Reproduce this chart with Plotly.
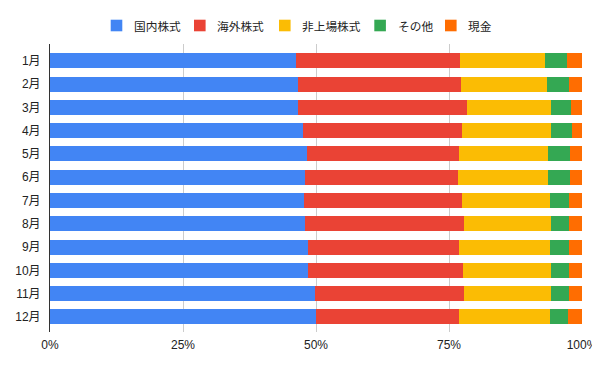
import plotly.graph_objects as go

months = ["1月", "2月", "3月", "4月", "5月", "6月", "7月", "8月", "9月", "10月", "11月", "12月"]
series_names = ["国内株式", "海外株式", "非上場株式", "その他", "現金"]
domestic = [46.2, 46.6, 46.6, 47.6, 48.3, 47.9, 47.7, 47.9, 48.5, 48.5, 49.8, 50.0]
foreign = [30.9, 30.7, 31.8, 29.9, 28.6, 28.8, 29.8, 30.0, 28.4, 29.2, 28.1, 26.9]
unlisted = [16.0, 16.2, 15.7, 16.6, 16.8, 17.0, 16.4, 16.2, 17.0, 16.4, 16.2, 17.0]
other = [4.0, 4.1, 3.9, 4.1, 4.1, 4.1, 3.7, 3.5, 3.7, 3.5, 3.5, 3.4]
cash = [2.9, 2.4, 2.0, 1.8, 2.2, 2.2, 2.4, 2.4, 2.4, 2.4, 2.4, 2.7]
tick_vals = [0, 0.25, 0.5, 0.75, 1.0]
tick_text = ["0%", "25%", "50%", "75%", "100%"]
colors = ["#4285F4", "#EA4335", "#FBBC04", "#34A853", "#FF6D01"]

data = [domestic, foreign, unlisted, other, cash]
totals = [sum(v) for v in zip(*data)]

font = "'Liberation Sans', Arial, 'Noto Sans CJK JP', sans-serif"
cjk_font = "'Noto Sans CJK JP', 'Liberation Sans', sans-serif"
fig = go.Figure()
for name, vals, c in zip(series_names, data, colors):
    fig.add_trace(go.Bar(
        y=months, x=[v / t for v, t in zip(vals, totals)], name=name,
        orientation="h", marker=dict(color=c, line=dict(width=0)), width=0.645,
        showlegend=False,
    ))

# page body has an 8px default margin, so the figure is sized/offset to compensate
W, H = 592, 363
ML, MR, MT, MB = 42, 18, 36, 39
PW, PH = W - ML - MR, H - MT - MB
OFF = 8

def px_to_paper_x(px):
    return (px - OFF - ML) / PW

def px_to_paper_y(py):
    return 1 - (py - OFF - MT) / PH

# custom legend (layout positions in window pixels)
legend_sq_left = [110.7, 194.0, 279.0, 374.3, 445.0]
legend_sq_size = 11.6
legend_cy = 25.5
legend_text_gap = 9.8
shapes, annotations = [], []
for name, c, sx in zip(series_names, colors, legend_sq_left):
    shapes.append(dict(type="rect", xref="paper", yref="paper",
                       x0=px_to_paper_x(sx), x1=px_to_paper_x(sx + legend_sq_size),
                       y0=px_to_paper_y(legend_cy + legend_sq_size / 2),
                       y1=px_to_paper_y(legend_cy - legend_sq_size / 2),
                       fillcolor=c, line=dict(width=0), layer="above"))
    annotations.append(dict(xref="paper", yref="paper",
                            x=px_to_paper_x(sx + legend_sq_size + legend_text_gap),
                            y=px_to_paper_y(legend_cy), xanchor="left", yanchor="middle",
                            text=name, showarrow=False,
                            font=dict(size=11.7, color="#222222", family=cjk_font)))

fig.update_layout(
    barmode="stack",
    width=W, height=H,
    margin=dict(l=ML, r=MR, t=MT, b=MB, autoexpand=False),
    paper_bgcolor="white", plot_bgcolor="white",
    font=dict(family=font, size=12, color="#222222"),
    showlegend=False,
    shapes=shapes,
    annotations=annotations,
    xaxis=dict(range=[0, 1.0], tickvals=tick_vals, ticktext=tick_text, showgrid=True,
               gridcolor="#cccccc", gridwidth=1, zeroline=False, showline=False,
               ticks="", ticklabelstandoff=4, automargin=False, ticklabeloverflow="allow",
               tickfont=dict(size=12, color="#222222")),
    yaxis=dict(categoryorder="array", categoryarray=months, range=[11.65, -0.72],
               showgrid=False, showline=True, linecolor="#333333", linewidth=1,
               ticks="", ticklabelstandoff=6, automargin=False,
               tickfont=dict(size=12, color="#222222")),
    bargap=0.355,
)
fig.write_html("out.html")
